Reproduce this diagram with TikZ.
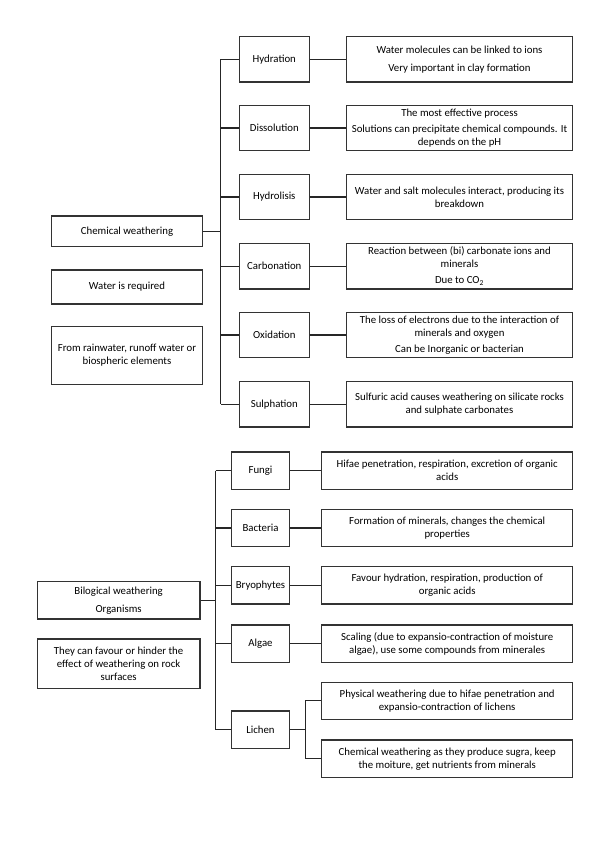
\documentclass[tikz,border=0pt]{standalone}
\usepackage{fontspec}
\setmainfont{Carlito}
\begin{document}
\begin{tikzpicture}[x=1pt,y=-1pt,
  box/.style={draw=black!80,line width=1.2pt,fill=white,align=center,inner sep=0.5pt,font=\fontsize{10.8}{13}\selectfont},
  conn/.style={draw=black!85,line width=1.1pt}]
\useasboundingbox (0,0) rectangle (599,848);
% ---------- top section ----------
\node[box,minimum width=150.6pt,minimum height=30.7pt] (cw) at (127,231.4) {Chemical weathering};
\node[box,minimum width=150.6pt,minimum height=34pt] (wr) at (127,287) {Water is required};
\node[box,minimum width=150.6pt,minimum height=57.6pt] (fr) at (127,355.5) {From rainwater, runoff water or\\biospheric elements};

\tikzset{mid/.style={box,minimum width=70pt,minimum height=45.5pt},
         desc/.style={box,minimum width=225.6pt,minimum height=45.5pt}}
\node[mid] (hyd) at (274.3,59.2) {Hydration};
\node[mid] (dis) at (274.3,128) {Dissolution};
\node[mid] (hyl) at (274.3,197) {Hydrolisis};
\node[mid] (car) at (274.3,266.2) {Carbonation};
\node[mid] (oxi) at (274.3,335) {Oxidation};
\node[mid] (sul) at (274.3,404.3) {Sulphation};

\node[desc] (dhyd) at (459.5,59.2) {Water molecules can be linked to ions\\[5pt]Very important in clay formation};
\node[desc] (ddis) at (459.5,128) {The most effective process\\[3pt]Solutions can precipitate chemical compounds. It\\depends on the pH};
\node[desc] (dhyl) at (459.5,197) {Water and salt molecules interact, producing its\\breakdown};
\node[desc] (dcar) at (459.5,266.2) {Reaction between (bi) carbonate ions and\\minerals\\[3pt]Due to CO\textsubscript{2}};
\node[desc] (doxi) at (459.5,335) {The loss of electrons due to the interaction of\\minerals and oxygen\\[3pt]Can be Inorganic or bacterian};
\node[desc] (dsul) at (459.5,404.3) {Sulfuric acid causes weathering on silicate rocks\\and sulphate carbonates};

\coordinate (tA) at (220.8,0);
\draw[conn] (cw.east) -- (cw.east -| tA);
\draw[conn] (tA |- hyd.west) -- (tA |- sul.west);
\foreach \n in {hyd,dis,hyl,car,oxi,sul}{
  \draw[conn] (tA |- \n.west) -- (\n.west);
  \draw[conn] (\n.east) -- (d\n.west);
}
% ---------- bottom section ----------
\node[box,minimum width=162.7pt,minimum height=37.3pt] (bw) at (118.6,600.3) {Bilogical weathering\\[5pt]Organisms};
\node[box,minimum width=162.7pt,minimum height=49.7pt] (tc) at (118.6,663.8) {They can favour or hinder the\\effect of weathering on rock\\surfaces};

\tikzset{midb/.style={box,minimum width=57.6pt,minimum height=37.3pt},
         descb/.style={box,minimum width=251pt,minimum height=37.3pt}}
\node[midb] (fun) at (260.5,470.7) {Fungi};
\node[midb] (bac) at (260.5,528) {Bacteria};
\node[midb] (bry) at (260.5,585.3) {Bryophytes};
\node[midb] (alg) at (260.5,643.7) {Algae};
\node[midb] (lic) at (260.5,729.7) {Lichen};

\node[descb] (dfun) at (447.2,470.7) {Hifae penetration, respiration, excretion of organic\\acids};
\node[descb] (dbac) at (447.2,528) {Formation of minerals, changes the chemical\\properties};
\node[descb] (dbry) at (447.2,585.3) {Favour hydration, respiration, production of\\organic acids};
\node[descb] (dalg) at (447.2,643.7) {Scaling (due to expansio-contraction of moisture\\algae), use some compounds from minerales};
\node[descb] (dlic1) at (447.2,700.8) {Physical weathering due to hifae penetration and\\expansio-contraction of lichens};
\node[descb] (dlic2) at (447.2,758.7) {Chemical weathering as they produce sugra, keep\\the moiture, get nutrients from minerals};

\coordinate (tB) at (215.7,0);
\draw[conn] (bw.east) -- (bw.east -| tB);
\draw[conn] (tB |- fun.west) -- (tB |- lic.west);
\foreach \n in {fun,bac,bry,alg,lic}{
  \draw[conn] (tB |- \n.west) -- (\n.west);
}
\foreach \n in {fun,bac,bry,alg}{
  \draw[conn] (\n.east) -- (d\n.west);
}
\coordinate (tC) at (305.3,0);
\draw[conn] (lic.east) -- (lic.east -| tC);
\draw[conn] (tC |- dlic1.west) -- (tC |- dlic2.west);
\draw[conn] (tC |- dlic1.west) -- (dlic1.west);
\draw[conn] (tC |- dlic2.west) -- (dlic2.west);
\end{tikzpicture}
\end{document}
